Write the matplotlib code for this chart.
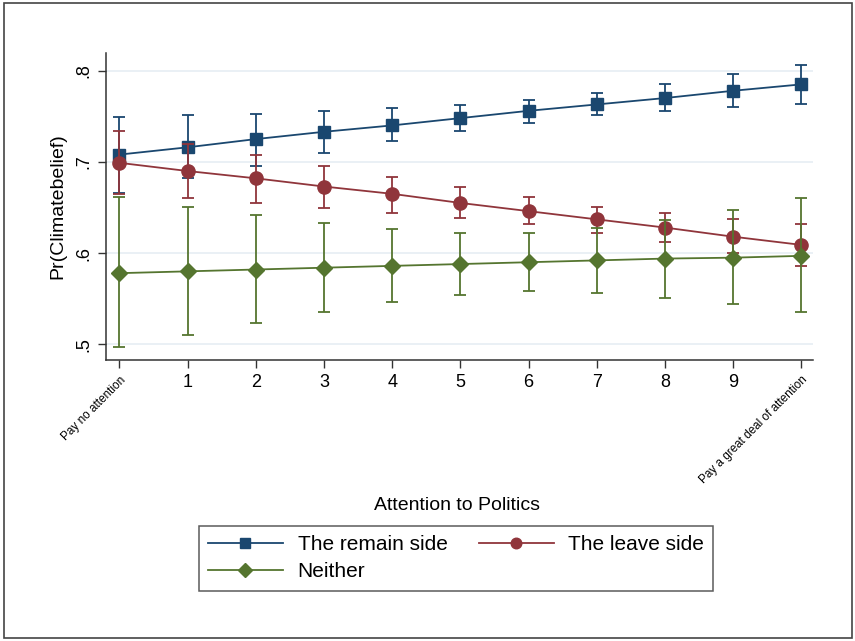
import matplotlib
matplotlib.use("Agg")
import matplotlib.pyplot as plt
from matplotlib.patches import Rectangle
import numpy as np

plt.rcParams['font.family'] = ['Liberation Sans', 'DejaVu Sans']

# Attention levels (0 = pay no attention ... 10 = pay a great deal of attention)
attention = list(range(11))
tick_labels = ["Pay no attention", "1", "2", "3", "4", "5", "6", "7", "8", "9",
               "Pay a great deal of attention"]

# Predicted probabilities and 95% confidence bounds
remain = [0.708, 0.716, 0.725, 0.733, 0.740, 0.748, 0.756, 0.763, 0.770, 0.778, 0.785]
remain_lo = [0.666, 0.682, 0.696, 0.710, 0.723, 0.734, 0.743, 0.751, 0.756, 0.760, 0.763]
remain_hi = [0.749, 0.751, 0.753, 0.756, 0.759, 0.762, 0.768, 0.776, 0.785, 0.796, 0.806]

leave = [0.699, 0.690, 0.682, 0.673, 0.665, 0.655, 0.646, 0.637, 0.628, 0.618, 0.609]
leave_lo = [0.665, 0.660, 0.655, 0.650, 0.644, 0.639, 0.632, 0.622, 0.612, 0.600, 0.586]
leave_hi = [0.734, 0.720, 0.708, 0.696, 0.683, 0.672, 0.661, 0.651, 0.644, 0.637, 0.632]

neither = [0.578, 0.580, 0.582, 0.584, 0.586, 0.588, 0.590, 0.592, 0.594, 0.595, 0.597]
neither_lo = [0.497, 0.510, 0.523, 0.535, 0.546, 0.554, 0.558, 0.556, 0.551, 0.544, 0.535]
neither_hi = [0.661, 0.651, 0.642, 0.633, 0.626, 0.622, 0.622, 0.628, 0.636, 0.647, 0.660]

c_remain = "#1a476f"
c_leave = "#90353b"
c_neither = "#55752f"

fig = plt.figure(figsize=(8.55, 6.41), dpi=100)
fig.patch.set_facecolor("white")
fig.patches.append(Rectangle((4 / 855, 3 / 641), 848 / 855, 635 / 641,
                             transform=fig.transFigure, fill=False,
                             edgecolor="#444444", linewidth=1.2))

ax = fig.add_axes([106 / 855, (641 - 360) / 641, (813 - 106) / 855, (360 - 53) / 641])

series = [
    ("The remain side", remain, remain_lo, remain_hi, c_remain, "s", 9),
    ("The leave side", leave, leave_lo, leave_hi, c_leave, "o", 9.5),
    ("Neither", neither, neither_lo, neither_hi, c_neither, "D", 8.5),
]

handles = {}
for z, (name, y, lo, hi, col, mk, ms) in enumerate(series):
    y = np.array(y)
    err = np.vstack([y - np.array(lo), np.array(hi) - y])
    ax.errorbar(attention, y, yerr=err, fmt="none", ecolor=col, elinewidth=1.3,
                capsize=4.5, capthick=1.3, zorder=2 + z)
    h, = ax.plot(attention, y, color=col, linewidth=1.3, marker=mk,
                 markersize=ms, markerfacecolor=col, markeredgecolor=col,
                 zorder=2.5 + z, label=name)
    handles[name] = h

ax.set_xlim(-0.195, 10.17)
ax.set_ylim(0.4828, 0.8194)
ax.set_yticks([0.5, 0.6, 0.7, 0.8])
ax.set_yticklabels([".5", ".6", ".7", ".8"])
ax.yaxis.grid(True, color="#e6eef4", linewidth=1.2)
ax.set_axisbelow(True)

ax.set_xticks(attention)
ax.set_xticklabels(tick_labels)
for lab in ax.get_xticklabels():
    lab.set_fontsize(13)
for i in (0, 10):
    lab = ax.get_xticklabels()[i]
    lab.set_fontsize(8.5)
    lab.set_rotation(45)
    lab.set_ha("right")
    lab.set_va("top")
    lab.set_rotation_mode("anchor")

ax.tick_params(axis="x", length=6, width=1, color="#333333", pad=4)
ax.tick_params(axis="y", length=6, width=1, color="#333333", labelsize=13,
               labelrotation=90, pad=4)
for lab in ax.get_yticklabels():
    lab.set_va("center")

for s in ("top", "right"):
    ax.spines[s].set_visible(False)
for s in ("left", "bottom"):
    ax.spines[s].set_color("#333333")
    ax.spines[s].set_linewidth(1.1)

ax.set_ylabel("Pr(Climatebelief)", fontsize=14, labelpad=6)
fig.text(457 / 855, 1 - 505 / 641, "Attention to Politics", fontsize=14,
         ha="center", va="center")

leg = fig.legend([handles["The remain side"], handles["Neither"], handles["The leave side"]],
                 ["The remain side", "Neither", "The leave side"],
                 ncol=2, loc="upper center", bbox_to_anchor=(456 / 855, 1 - 526 / 641),
                 fontsize=15, frameon=True, fancybox=False, handlelength=3.6,
                 handletextpad=0.7, columnspacing=1.5, labelspacing=0.38,
                 borderpad=0.45, borderaxespad=0, markerscale=0.8)
leg.get_frame().set_edgecolor("#333333")
leg.get_frame().set_linewidth(1.1)

fig.savefig("out.png", dpi=100, facecolor="white")
